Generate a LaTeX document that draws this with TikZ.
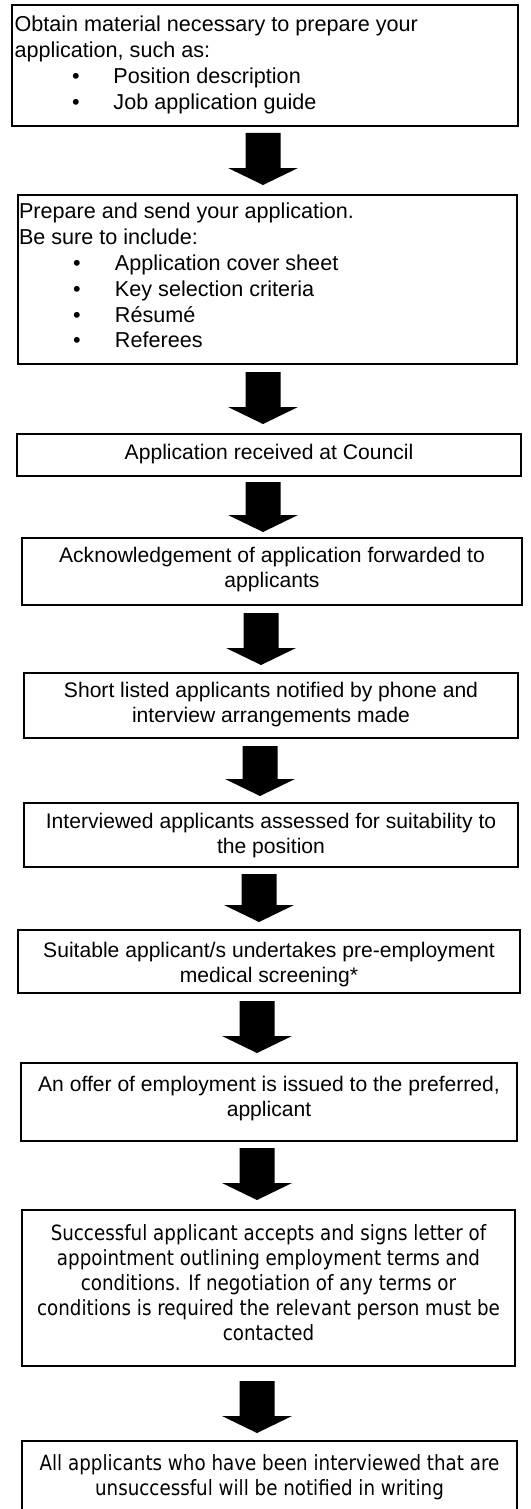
\documentclass[tikz,border=0pt]{standalone}
\usepackage{fontspec}
\setmainfont{Liberation Sans}
\newfontfamily\tahomafont[FakeStretch=0.87]{DejaVu Sans}
\usetikzlibrary{calc}
\tikzset{
  flowbox/.style={draw, line width=1.2pt, inner sep=0pt, outer sep=0pt, anchor=north west, rectangle},
  arialtext/.style={font=\fontsize{21.1}{25.5}\selectfont},
  listtext/.style={font=\fontsize{21.6}{25.8}\selectfont},
  tahomatext/.style={font=\tahomafont\fontsize{21}{25}\selectfont},
}
% #1 name, #2 x, #3 y, #4 width, #5 height, #6 top skip, #7 font style, #8 text
\newcommand\flowstep[8]{%
  \node[flowbox, #7, minimum width=#4pt, minimum height=#5pt] (#1) at (#2,#3)
    {\parbox[c][#5pt][t]{#4pt}{\vspace*{#6pt}#8}};}
\newcommand\blockarrow[2]{%
  \fill[black] ($(#1)+(-17.5,0)$) -- ($(#1)+(17.5,0)$) -- ($(#2)+(17.5,-17)$)
    -- ($(#2)+(35,-17)$) -- (#2) -- ($(#2)+(-35,-17)$) -- ($(#2)+(-17.5,-17)$) -- cycle;}
\newcommand\bul[2]{\hspace*{#1pt}\makebox[#2pt][l]{•}}
\begin{document}
\begin{tikzpicture}[x=1pt, y=-1pt]
\useasboundingbox (0,0) rectangle (530,1509);
\fill[white] (0,0) rectangle (530,1509);

\flowstep{b1}{12}{5}{506}{121}{8.9}{listtext}{\leftskip=2.5pt\strut Obtain material necessary to prepare your\\
application, such as:\\
\bul{57.5}{41.5}Position description\\
\bul{57.5}{41.5}Job application guide}

\flowstep{b2}{18}{195}{499}{169}{5.9}{listtext}{\leftskip=1pt\strut Prepare and send your application.\\
Be sure to include:\\
\bul{54}{42}Application cover sheet\\
\bul{54}{42}Key selection criteria\\
\bul{54}{42}Résumé\\
\bul{54}{42}Referees}

\flowstep{b3}{17}{434}{504}{42}{8.1}{arialtext}{\centering\strut Application received at Council}

\flowstep{b4}{22}{538}{500}{67}{6.2}{arialtext}{\centering\strut Acknowledgement of application forwarded to\\applicants}

\flowstep{b5}{24}{673}{494}{65}{6.2}{arialtext}{\centering\strut Short listed applicants notified by phone and\\interview arrangements made}

\flowstep{b6}{24}{803}{494}{64}{7.2}{arialtext}{\centering\strut Interviewed applicants assessed for suitability to\\the position}

\flowstep{b7}{18}{930}{502}{63}{9.2}{arialtext}{\centering\strut Suitable applicant/s undertakes pre-employment\\medical screening*}

\flowstep{b8}{21}{1063}{496}{78}{10.2}{arialtext}{\centering\strut An offer of employment is issued to the preferred,\\applicant}

\flowstep{b9}{22}{1210}{493}{156}{12.5}{tahomatext}{\centering\strut Successful applicant accepts and signs letter of\\
appointment outlining employment terms and\\
conditions. If negotiation of any terms or\\
conditions is required the relevant person must be\\
contacted}

\flowstep{b10}{22}{1441}{495}{80}{11.5}{tahomatext}{\centering\strut All applicants who have been interviewed that are\\
unsuccessful will be notified in writing}

\coordinate (a1s) at (263,133);  \coordinate (a1e) at (263,185);
\coordinate (a2s) at (263,372);  \coordinate (a2e) at (263,424);
\coordinate (a3s) at (263,482);  \coordinate (a3e) at (263,532);
\coordinate (a4s) at (261,613);  \coordinate (a4e) at (261,665);
\coordinate (a5s) at (260,746);  \coordinate (a5e) at (260,796);
\coordinate (a6s) at (259,874);  \coordinate (a6e) at (259,922);
\coordinate (a7s) at (257,1001); \coordinate (a7e) at (257,1053);
\coordinate (a8s) at (257,1148); \coordinate (a8e) at (257,1200);
\coordinate (a9s) at (257,1381); \coordinate (a9e) at (257,1433);
\blockarrow{a1s}{a1e}
\blockarrow{a2s}{a2e}
\blockarrow{a3s}{a3e}
\blockarrow{a4s}{a4e}
\blockarrow{a5s}{a5e}
\blockarrow{a6s}{a6e}
\blockarrow{a7s}{a7e}
\blockarrow{a8s}{a8e}
\blockarrow{a9s}{a9e}
\end{tikzpicture}
\end{document}
